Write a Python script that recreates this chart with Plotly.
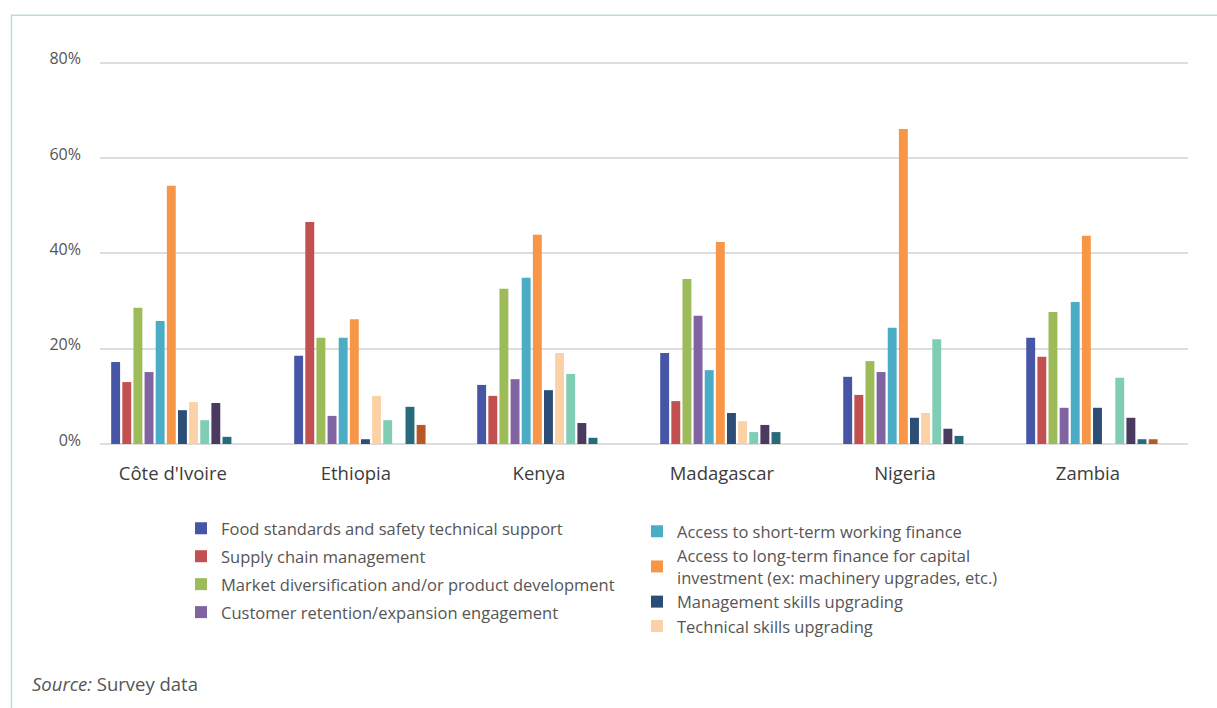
import plotly.graph_objects as go

# Countries surveyed
countries = ["Côte d'Ivoire", "Ethiopia", "Kenya", "Madagascar", "Nigeria", "Zambia"]

# Share of firms citing each support need (%), per country
food_standards = [17.2, 18.5, 12.4, 19.1, 14.1, 22.3]
supply_chain = [13.0, 46.6, 10.1, 9.0, 10.3, 18.3]
market_diversification = [28.6, 22.3, 32.6, 34.6, 17.4, 27.7]
customer_retention = [15.1, 5.9, 13.6, 26.9, 15.1, 7.6]
short_term_finance = [25.8, 22.3, 34.9, 15.5, 24.4, 29.8]
long_term_finance = [54.2, 26.2, 43.9, 42.4, 66.1, 43.7]
management_skills = [7.1, 1.0, 11.3, 6.5, 5.5, 7.6]
technical_skills = [8.8, 10.1, 19.1, 4.8, 6.5, 0.0]
other_a = [5.0, 5.0, 14.7, 2.5, 22.0, 13.9]
other_b = [8.6, 0.0, 4.4, 4.0, 3.2, 5.5]
other_c = [1.5, 7.8, 1.3, 2.5, 1.7, 1.0]
other_d = [0.0, 4.0, 0.0, 0.0, 0.0, 1.0]

y_ticks = [0, 20, 40, 60, 80]
y_tick_labels = ["0%", "20%", "40%", "60%", "80%"]

series = [
    ("Food standards and safety technical support", food_standards, "#4655A5", "legend"),
    ("Supply chain management", supply_chain, "#C25050", "legend"),
    ("Market diversification and/or product development", market_diversification, "#9DBB59", "legend"),
    ("Customer retention/expansion engagement", customer_retention, "#8064A2", "legend"),
    ("Access to short-term working finance", short_term_finance, "#4BACC6", "legend2"),
    ("Access to long-term finance for capital<br>investment (ex: machinery upgrades, etc.)",
     long_term_finance, "#F79646", "legend2"),
    ("Management skills upgrading", management_skills, "#2C4D75", "legend2"),
    ("Technical skills upgrading", technical_skills, "#FAD2A5", "legend2"),
    ("Other 1", other_a, "#7FCDB4", None),
    ("Other 2", other_b, "#4B3A60", None),
    ("Other 3", other_c, "#276A7C", None),
    ("Other 4", other_d, "#B65A25", None),
]

fig = go.Figure()
for i, (name, vals, color, leg) in enumerate(series):
    fig.add_trace(go.Bar(
        x=list(range(len(countries))), y=vals, name=name,
        marker=dict(color=color, line=dict(width=0)),
        showlegend=leg is not None,
        legend=leg if leg else "legend",
        legendgroup=f"g{i}" if leg == "legend" else None,
        hoverinfo="skip",
    ))

W, H = 1217, 708
Y_MAX = 81
L, R, B = 100, 1188, 444
T = 63 - (B - 63) / 80 * (Y_MAX - 80)


def px(xp):
    return (xp - L) / (R - L)


def py(yp):
    return (B - yp) / (B - T)


text_font = "Open Sans, Noto Sans, sans-serif"

fig.update_layout(
    width=W, height=H,
    margin=dict(l=L, r=W - R, t=T, b=H - B),
    paper_bgcolor="white", plot_bgcolor="white",
    barmode="group", bargap=0.27, bargroupgap=0.2,
    font=dict(family=text_font, color="#555555"),
    xaxis=dict(
        tickmode="array", tickvals=list(range(len(countries))), ticktext=countries,
        range=[-0.42, 5.525], showgrid=False, zeroline=False, showline=False,
        ticks="", tickfont=dict(size=18.5, color="#3c3c3c"), ticklabelstandoff=16,
        ticklabelshift=-4,
    ),
    yaxis=dict(
        range=[0, Y_MAX], tickvals=y_ticks, ticktext=y_tick_labels,
        showgrid=True, gridcolor="#DDDDDD", gridwidth=1.5,
        zeroline=True, zerolinecolor="#DDDDDD", zerolinewidth=2,
        showline=False, ticks="", tickfont=dict(size=16, color="#555555"),
        ticklabelstandoff=18, ticklabelshift=-4,
    ),
    legend=dict(
        x=px(181), y=py(511), xanchor="left", yanchor="top",
        orientation="v", font=dict(size=16.5, color="#555555"),
        bgcolor="rgba(0,0,0,0)", itemclick=False, itemdoubleclick=False,
        traceorder="grouped", tracegroupgap=3.5,
    ),
    legend2=dict(
        x=px(637), y=py(514), xanchor="left", yanchor="top",
        orientation="v", font=dict(size=16.5, color="#555555"),
        bgcolor="rgba(0,0,0,0)", itemclick=False, itemdoubleclick=False,
        traceorder="normal", tracegroupgap=0,
    ),
    annotations=[dict(
        text="<i>Source:</i> Survey data", xref="paper", yref="paper",
        x=px(30), y=py(683), xanchor="left", yanchor="middle", showarrow=False,
        font=dict(size=18.5, color="#555555", family=text_font),
    )],
    shapes=[
        dict(type="line", xref="paper", yref="paper", x0=px(11), x1=px(1217),
             y0=py(15.5), y1=py(15.5), line=dict(color="#B4E1DD", width=1.5)),
        dict(type="line", xref="paper", yref="paper", x0=px(11.5), x1=px(11.5),
             y0=py(15), y1=py(708), line=dict(color="#B4E1DD", width=1.5)),
    ],
)

fig.write_html("out.html")
